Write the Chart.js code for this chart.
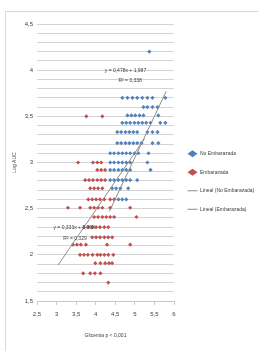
<!DOCTYPE html>
<html lang="es">
<head>
    <meta charset="UTF-8">
    <title>Glicemia vs Log AUC</title>
    <script src="https://cdn.jsdelivr.net/npm/chart.js"></script>
    <style>
        body {
            margin: 0;
            background: #fff;
        }
        .wrap {
            position: relative;
            width: 258px;
            height: 351px;
            overflow: hidden;
        }
        .frame {
            position: absolute;
            left: 5px;
            top: 11px;
            width: 300px;
            height: 400px;
            border: 1px solid #d9d9d9;
        }
        canvas {
            position: absolute;
            left: 0;
            top: 0;
        }
    </style>
</head>
<body>
    <div class="wrap">
        <div class="frame"></div>
        <canvas id="chart" width="258" height="351"></canvas>
    </div>

    <script>
        // No Embarazada (blue)
        const blueX = [5.37,
            4.68, 4.81, 4.94, 5.06, 5.19, 5.32, 5.45, 5.78,
            5.22, 5.32, 5.45, 5.58,
            4.81, 4.91, 5.01, 5.12, 5.22, 5.60,
            4.68, 4.78, 4.88, 4.99, 5.09, 5.19, 5.29, 5.40, 5.65, 5.78,
            4.55, 4.65, 4.76, 4.86, 4.96, 5.06, 5.32, 5.45, 5.58,
            4.55, 4.65, 4.76, 4.86, 4.96, 5.06, 5.17, 5.45, 5.60,
            4.37, 4.47, 4.58, 4.68, 4.78, 4.88, 4.99, 5.09, 5.35,
            4.37, 4.47, 4.58, 4.68, 4.78, 4.88, 5.32,
            4.37, 4.47, 4.58, 4.68, 4.78, 4.88, 5.40,
            4.37, 4.47, 4.58, 4.68, 4.78, 4.88, 5.06,
            4.42, 4.52, 4.63, 4.83,
            4.58, 4.68, 4.78];
        const blueY = [4.20,
            3.70, 3.70, 3.70, 3.70, 3.70, 3.70, 3.70, 3.70,
            3.60, 3.60, 3.60, 3.60,
            3.51, 3.51, 3.51, 3.51, 3.51, 3.51,
            3.43, 3.43, 3.43, 3.43, 3.43, 3.43, 3.43, 3.43, 3.43, 3.43,
            3.33, 3.33, 3.33, 3.33, 3.33, 3.33, 3.33, 3.33, 3.33,
            3.21, 3.21, 3.21, 3.21, 3.21, 3.21, 3.21, 3.21, 3.21,
            3.10, 3.10, 3.10, 3.10, 3.10, 3.10, 3.10, 3.10, 3.10,
            3.00, 3.00, 3.00, 3.00, 3.00, 3.00, 3.00,
            2.92, 2.92, 2.92, 2.92, 2.92, 2.92, 2.92,
            2.81, 2.81, 2.81, 2.81, 2.81, 2.81, 2.81,
            2.72, 2.72, 2.72, 2.72,
            2.60, 2.60, 2.60];

        // Embarazada (red)
        const redX = [3.76, 4.17,
            3.55, 3.93, 4.04, 4.14,
            4.04, 4.14, 4.24,
            3.73, 3.83, 3.93, 4.04, 4.14, 4.24,
            3.86, 3.96, 4.06, 4.17,
            3.81, 3.91, 4.01, 4.11, 4.22, 4.37, 4.47,
            3.29, 3.60, 3.86, 3.96, 4.06, 4.17, 4.37, 4.88,
            3.96, 4.06, 4.17, 4.27, 4.37, 4.47, 5.04,
            3.70, 3.81, 3.91, 4.01, 4.11, 4.22, 4.32,
            3.91, 4.01, 4.11, 4.22, 4.32, 4.42,
            3.42, 3.52, 3.62, 3.75, 4.29, 4.88,
            3.60, 3.70, 3.80, 3.92, 4.04, 4.12, 4.22, 4.32, 4.45,
            3.99, 4.12, 4.24, 4.34, 4.42,
            3.68, 3.86, 3.98, 4.12,
            4.32];
        const redY = [3.50, 3.50,
            3.00, 3.00, 3.00, 3.00,
            2.92, 2.92, 2.92,
            2.81, 2.81, 2.81, 2.81, 2.81, 2.81,
            2.72, 2.72, 2.72, 2.72,
            2.60, 2.60, 2.60, 2.60, 2.60, 2.60, 2.60,
            2.51, 2.51, 2.51, 2.51, 2.51, 2.51, 2.51, 2.51,
            2.41, 2.41, 2.41, 2.41, 2.41, 2.41, 2.41,
            2.30, 2.30, 2.30, 2.30, 2.30, 2.30, 2.30,
            2.19, 2.19, 2.19, 2.19, 2.19, 2.19,
            2.11, 2.11, 2.11, 2.11, 2.11, 2.11,
            2.00, 2.00, 2.00, 2.00, 2.00, 2.00, 2.00, 2.00, 2.00,
            1.91, 1.91, 1.91, 1.91, 1.91,
            1.80, 1.80, 1.80, 1.80,
            1.70];

        // trend line ends
        const trendBlueX = [4.35, 5.80];
        const trendBlueY = [2.47, 3.77];
        const trendRedX = [3.04, 5.25];
        const trendRedY = [1.89, 3.26];

        const eqTexts = ['y = 0,478x + 1,987', 'R² = 0,338', 'y = 0,333x + 2,068', 'R² = 0,329'];
        const eqX = [4.76, 4.88, 3.45, 3.47];
        const eqY = [4.00, 3.89, 2.30, 2.18];

        const seriesLabels = ['No Embarazada', 'Embarazada', 'Lineal (No Embarazada)', 'Lineal (Embarazada)'];

        const toPoints = (xs, ys) => xs.map((x, i) => ({ x: x, y: ys[i] }));
        const fmt = v => String(Math.round(v * 10) / 10).replace('.', ',');
        const font = '"Liberation Sans", Arial, sans-serif';
        const textColor = '#404040';

        const legendWidth = {
            id: 'legendWidth',
            beforeInit(chart) {
                if (!chart.legend) return;
                const fit = chart.legend.fit;
                chart.legend.fit = function () {
                    fit.call(this);
                    this.width = 84;
                };
            }
        };

        const eqLabels = {
            id: 'eqLabels',
            afterDatasetsDraw(chart) {
                const { ctx, scales } = chart;
                ctx.save();
                ctx.font = '5px ' + font;
                ctx.fillStyle = textColor;
                ctx.textAlign = 'center';
                ctx.textBaseline = 'middle';
                eqTexts.forEach((t, i) => {
                    ctx.fillText(t, scales.x.getPixelForValue(eqX[i]), scales.y.getPixelForValue(eqY[i]));
                });
                ctx.restore();
            }
        };

        new Chart(document.getElementById('chart'), {
            type: 'scatter',
            data: {
                datasets: [{
                    label: seriesLabels[0],
                    data: toPoints(blueX, blueY),
                    backgroundColor: '#4f81bd',
                    borderColor: '#4f81bd',
                    pointStyle: 'rectRot',
                    pointRadius: 2.1,
                    borderWidth: 0,
                    order: 1
                }, {
                    label: seriesLabels[1],
                    data: toPoints(redX, redY),
                    backgroundColor: '#c0504d',
                    borderColor: '#c0504d',
                    pointStyle: 'rectRot',
                    pointRadius: 2.1,
                    borderWidth: 0,
                    order: 1
                }, {
                    label: seriesLabels[2],
                    data: toPoints(trendBlueX, trendBlueY),
                    showLine: true,
                    pointRadius: 0,
                    pointStyle: 'line',
                    borderColor: '#8c8c8c',
                    backgroundColor: '#8c8c8c',
                    borderWidth: 1,
                    order: 0
                }, {
                    label: seriesLabels[3],
                    data: toPoints(trendRedX, trendRedY),
                    showLine: true,
                    pointRadius: 0,
                    pointStyle: 'line',
                    borderColor: '#8c8c8c',
                    backgroundColor: '#8c8c8c',
                    borderWidth: 1,
                    order: 0
                }]
            },
            options: {
                responsive: false,
                animation: false,
                devicePixelRatio: 1,
                layout: {
                    padding: { top: 24, bottom: 12, left: 6, right: 0 }
                },
                scales: {
                    x: {
                        type: 'linear',
                        min: 2.5,
                        max: 6,
                        ticks: {
                            stepSize: 0.5,
                            padding: 6,
                            color: textColor,
                            font: { family: font, size: 6 },
                            callback: v => fmt(v)
                        },
                        grid: { drawOnChartArea: false, tickLength: 4, color: '#c8c8c8' },
                        border: { display: true, color: '#c8c8c8' },
                        title: {
                            display: true,
                            text: 'Glicemia p < 0,001',
                            color: textColor,
                            font: { family: font, size: 5 },
                            padding: { top: 0, bottom: 0 }
                        },
                        afterFit: s => { s.height = 38; }
                    },
                    y: {
                        min: 1.5,
                        max: 4.5,
                        ticks: {
                            stepSize: 0.1,
                            autoSkip: false,
                            padding: 4,
                            color: textColor,
                            font: { family: font, size: 6 },
                            callback: v => Math.abs(v * 2 - Math.round(v * 2)) < 1e-6 ? fmt(v) : ''
                        },
                        grid: { color: '#d4d4d4', drawTicks: false },
                        border: { display: false },
                        title: {
                            display: true,
                            text: 'Log AUC',
                            color: textColor,
                            font: { family: font, size: 5 },
                            padding: { top: 6, bottom: 0 }
                        },
                        afterFit: s => { s.width = 31; }
                    }
                },
                plugins: {
                    legend: {
                        position: 'right',
                        labels: {
                            usePointStyle: true,
                            pointStyleWidth: 10,
                            padding: 13.5,
                            color: textColor,
                            font: { family: font, size: 5 },
                            sort: (a, b) => a.datasetIndex - b.datasetIndex
                        }
                    },
                    tooltip: { enabled: false }
                }
            },
            plugins: [legendWidth, eqLabels]
        });
    </script>
</body>
</html>
